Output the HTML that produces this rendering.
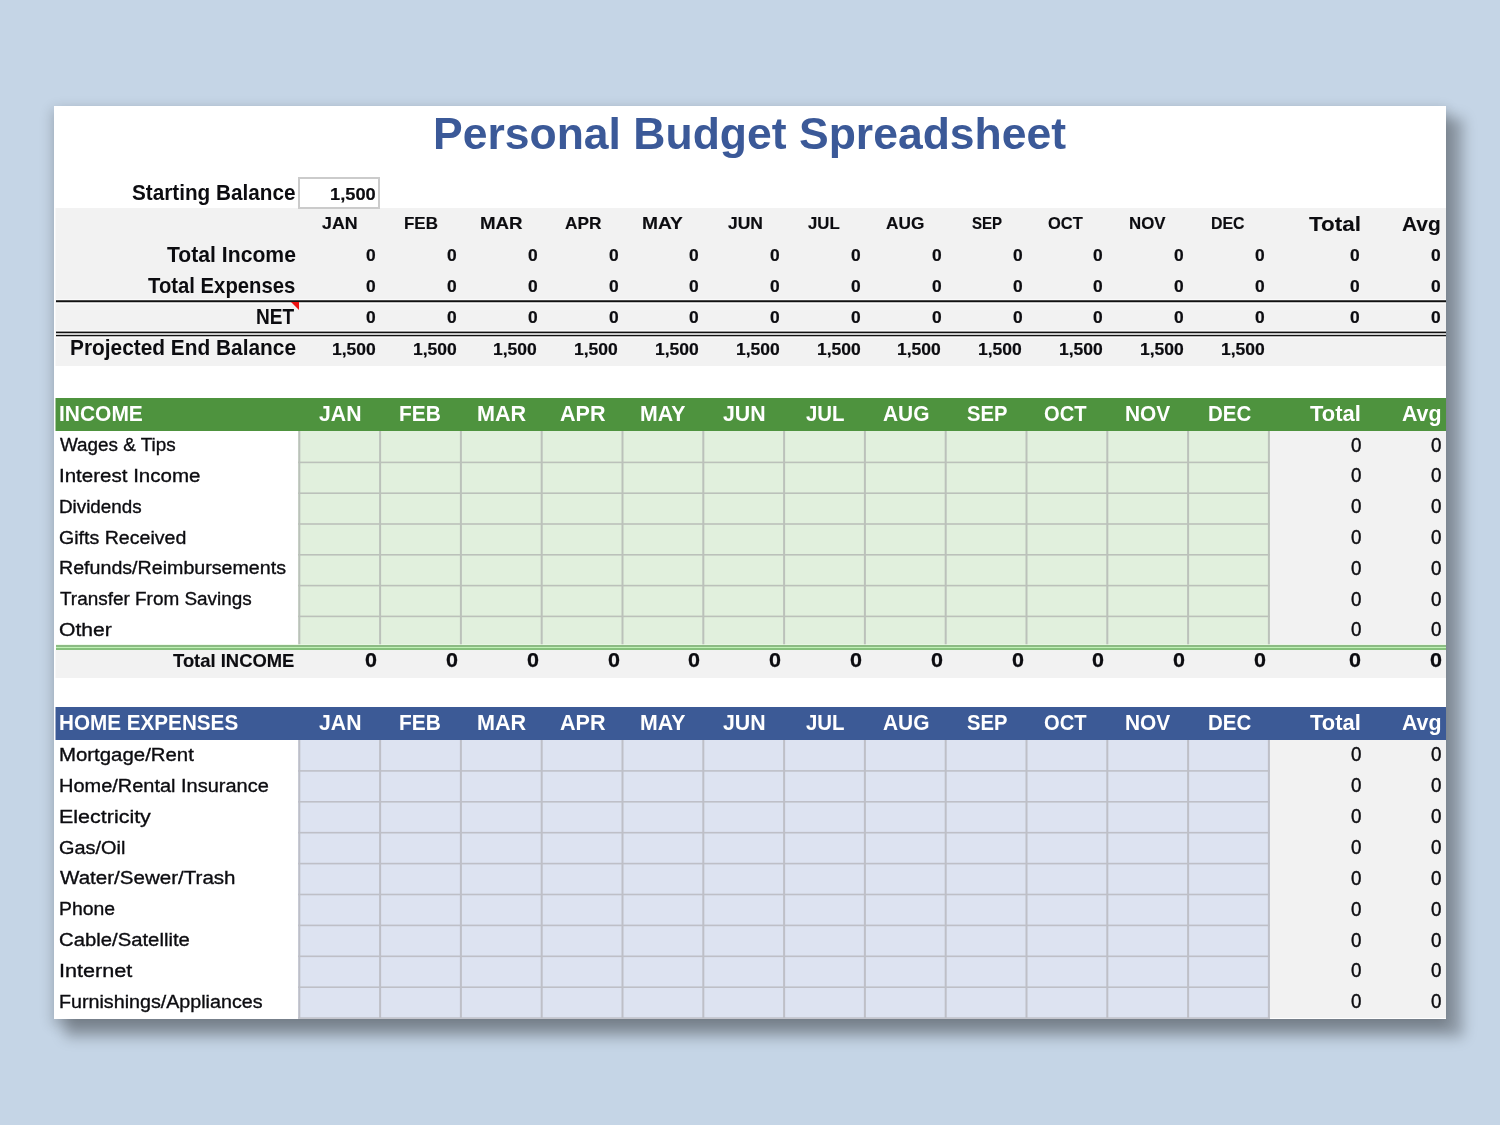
<!DOCTYPE html>
<html lang="en"><head><meta charset="utf-8"><title>Personal Budget Spreadsheet</title>
<style>
html,body{margin:0;padding:0;}
body{width:1500px;height:1125px;overflow:hidden;background:#c5d5e6;font-family:"Liberation Sans",sans-serif;color:#0c0c10;}
.sheet{position:absolute;left:54px;top:106px;width:1392px;height:913px;background:#fff;
 box-shadow:14px 15px 13px 3px rgba(0,0,0,0.28), 0 5px 12px 2px rgba(0,0,0,0.19);}
.clip{position:absolute;left:0;top:0;width:1392px;height:913px;overflow:hidden;}
.b,.t{position:absolute;}
section{filter:blur(0.4px);}
.t{white-space:nowrap;height:30px;line-height:30px;transform-origin:0 50%;}
.title{color:#3b5998;}
.sh,.smh{color:#fff;}
.title{font-size:43.8px;font-weight:bold;}
.lb{font-size:21.2px;font-weight:bold;}
.num{font-size:16.6px;font-weight:bold;-webkit-text-stroke:0.2px currentColor;}
.mh{font-size:16.5px;font-weight:bold;-webkit-text-stroke:0.15px currentColor;}
.th{font-size:21.0px;font-weight:bold;-webkit-text-stroke:0.1px currentColor;}
.sh{font-size:21.4px;font-weight:bold;}
.smh{font-size:21.8px;font-weight:bold;}
.rl{font-size:19.2px;font-weight:normal;-webkit-text-stroke:0.35px currentColor;}
.rn{font-size:19.8px;font-weight:normal;-webkit-text-stroke:0.4px currentColor;}
.tl{font-size:18.2px;font-weight:bold;-webkit-text-stroke:0.15px currentColor;}
.tn{font-size:19.6px;font-weight:bold;-webkit-text-stroke:0.25px currentColor;}

</style></head>
<body>
<div class="sheet"><div class="clip">
<div class="grid-layer">
<div class="b" style="left:2px;top:102px;width:1390px;height:158px;background:#f2f2f2;"></div>
<div class="b" style="left:1px;top:102px;width:1px;height:158px;background:rgba(242,242,242,0.5);"></div>
<div class="b" style="left:2px;top:193px;width:1390px;height:1px;background:rgba(255,255,255,0.6);"></div>
<div class="b" style="left:2px;top:197px;width:1390px;height:1px;background:rgba(255,255,255,0.6);"></div>
<div class="b" style="left:2px;top:194px;width:1390px;height:1px;background:rgba(17,17,17,0.75);"></div>
<div class="b" style="left:2px;top:195px;width:1390px;height:1px;background:rgba(17,17,17,1);"></div>
<div class="b" style="left:2px;top:196px;width:1390px;height:1px;background:rgba(17,17,17,0.2);"></div>
<div class="b" style="left:2px;top:224px;width:1390px;height:1px;background:rgba(255,255,255,0.6);"></div>
<div class="b" style="left:2px;top:231px;width:1390px;height:1px;background:rgba(255,255,255,0.6);"></div>
<div class="b" style="left:2px;top:225px;width:1390px;height:1px;background:rgba(17,17,17,0.4);"></div>
<div class="b" style="left:2px;top:226px;width:1390px;height:1px;background:rgba(17,17,17,1);"></div>
<div class="b" style="left:2px;top:227px;width:1390px;height:1px;background:rgba(17,17,17,0.2);"></div>
<div class="b" style="left:2px;top:228px;width:1390px;height:1px;background:rgba(17,17,17,0.15);"></div>
<div class="b" style="left:2px;top:229px;width:1390px;height:1px;background:rgba(17,17,17,1);"></div>
<div class="b" style="left:2px;top:230px;width:1390px;height:1px;background:rgba(17,17,17,0.25);"></div>
<div class="b" style="left:236.60000000000002px;top:196px;width:0;height:0;border-top:8px solid #ee1111;border-left:8px solid transparent;"></div>
<div class="b" style="left:2px;top:292px;width:1390px;height:33px;background:#4e933e;"></div>
<div class="b" style="left:1px;top:292px;width:1px;height:33px;background:#4e933e80;"></div>
<div class="b" style="left:244px;top:325px;width:972px;height:214px;background:#e1f0dd;"></div>
<div class="b" style="left:1216px;top:325px;width:176px;height:214px;background:#f2f2f2;"></div>
<div class="b" style="left:244px;top:355px;width:972px;height:1px;background:rgba(187,193,186,0.40);"></div>
<div class="b" style="left:244px;top:356px;width:972px;height:1px;background:rgba(187,193,186,1.00);"></div>
<div class="b" style="left:244px;top:357px;width:972px;height:1px;background:rgba(187,193,186,0.20);"></div>
<div class="b" style="left:244px;top:386px;width:972px;height:1px;background:rgba(187,193,186,0.60);"></div>
<div class="b" style="left:244px;top:387px;width:972px;height:1px;background:rgba(187,193,186,1.00);"></div>
<div class="b" style="left:244px;top:417px;width:972px;height:1px;background:rgba(187,193,186,0.80);"></div>
<div class="b" style="left:244px;top:418px;width:972px;height:1px;background:rgba(187,193,186,0.80);"></div>
<div class="b" style="left:244px;top:448px;width:972px;height:1px;background:rgba(187,193,186,1.00);"></div>
<div class="b" style="left:244px;top:449px;width:972px;height:1px;background:rgba(187,193,186,0.60);"></div>
<div class="b" style="left:244px;top:478px;width:972px;height:1px;background:rgba(187,193,186,0.20);"></div>
<div class="b" style="left:244px;top:479px;width:972px;height:1px;background:rgba(187,193,186,1.00);"></div>
<div class="b" style="left:244px;top:480px;width:972px;height:1px;background:rgba(187,193,186,0.40);"></div>
<div class="b" style="left:244px;top:509px;width:972px;height:1px;background:rgba(187,193,186,0.40);"></div>
<div class="b" style="left:244px;top:510px;width:972px;height:1px;background:rgba(187,193,186,1.00);"></div>
<div class="b" style="left:244px;top:511px;width:972px;height:1px;background:rgba(187,193,186,0.20);"></div>
<div class="b" style="left:244px;top:325px;width:1px;height:214px;background:rgba(187,193,186,0.70);"></div>
<div class="b" style="left:245px;top:325px;width:1px;height:214px;background:rgba(187,193,186,1.00);"></div>
<div class="b" style="left:246px;top:325px;width:1px;height:214px;background:rgba(187,193,186,0.30);"></div>
<div class="b" style="left:325px;top:325px;width:1px;height:214px;background:rgba(187,193,186,0.90);"></div>
<div class="b" style="left:326px;top:325px;width:1px;height:214px;background:rgba(187,193,186,1.00);"></div>
<div class="b" style="left:327px;top:325px;width:1px;height:214px;background:rgba(187,193,186,0.10);"></div>
<div class="b" style="left:405px;top:325px;width:1px;height:214px;background:rgba(187,193,186,0.10);"></div>
<div class="b" style="left:406px;top:325px;width:1px;height:214px;background:rgba(187,193,186,1.00);"></div>
<div class="b" style="left:407px;top:325px;width:1px;height:214px;background:rgba(187,193,186,0.90);"></div>
<div class="b" style="left:486px;top:325px;width:1px;height:214px;background:rgba(187,193,186,0.30);"></div>
<div class="b" style="left:487px;top:325px;width:1px;height:214px;background:rgba(187,193,186,1.00);"></div>
<div class="b" style="left:488px;top:325px;width:1px;height:214px;background:rgba(187,193,186,0.70);"></div>
<div class="b" style="left:567px;top:325px;width:1px;height:214px;background:rgba(187,193,186,0.50);"></div>
<div class="b" style="left:568px;top:325px;width:1px;height:214px;background:rgba(187,193,186,1.00);"></div>
<div class="b" style="left:569px;top:325px;width:1px;height:214px;background:rgba(187,193,186,0.50);"></div>
<div class="b" style="left:648px;top:325px;width:1px;height:214px;background:rgba(187,193,186,0.70);"></div>
<div class="b" style="left:649px;top:325px;width:1px;height:214px;background:rgba(187,193,186,1.00);"></div>
<div class="b" style="left:650px;top:325px;width:1px;height:214px;background:rgba(187,193,186,0.30);"></div>
<div class="b" style="left:729px;top:325px;width:1px;height:214px;background:rgba(187,193,186,0.90);"></div>
<div class="b" style="left:730px;top:325px;width:1px;height:214px;background:rgba(187,193,186,1.00);"></div>
<div class="b" style="left:731px;top:325px;width:1px;height:214px;background:rgba(187,193,186,0.10);"></div>
<div class="b" style="left:809px;top:325px;width:1px;height:214px;background:rgba(187,193,186,0.10);"></div>
<div class="b" style="left:810px;top:325px;width:1px;height:214px;background:rgba(187,193,186,1.00);"></div>
<div class="b" style="left:811px;top:325px;width:1px;height:214px;background:rgba(187,193,186,0.90);"></div>
<div class="b" style="left:890px;top:325px;width:1px;height:214px;background:rgba(187,193,186,0.30);"></div>
<div class="b" style="left:891px;top:325px;width:1px;height:214px;background:rgba(187,193,186,1.00);"></div>
<div class="b" style="left:892px;top:325px;width:1px;height:214px;background:rgba(187,193,186,0.70);"></div>
<div class="b" style="left:971px;top:325px;width:1px;height:214px;background:rgba(187,193,186,0.50);"></div>
<div class="b" style="left:972px;top:325px;width:1px;height:214px;background:rgba(187,193,186,1.00);"></div>
<div class="b" style="left:973px;top:325px;width:1px;height:214px;background:rgba(187,193,186,0.50);"></div>
<div class="b" style="left:1052px;top:325px;width:1px;height:214px;background:rgba(187,193,186,0.70);"></div>
<div class="b" style="left:1053px;top:325px;width:1px;height:214px;background:rgba(187,193,186,1.00);"></div>
<div class="b" style="left:1054px;top:325px;width:1px;height:214px;background:rgba(187,193,186,0.30);"></div>
<div class="b" style="left:1133px;top:325px;width:1px;height:214px;background:rgba(187,193,186,0.90);"></div>
<div class="b" style="left:1134px;top:325px;width:1px;height:214px;background:rgba(187,193,186,1.00);"></div>
<div class="b" style="left:1135px;top:325px;width:1px;height:214px;background:rgba(187,193,186,0.10);"></div>
<div class="b" style="left:1213px;top:325px;width:1px;height:214px;background:rgba(187,193,186,0.10);"></div>
<div class="b" style="left:1214px;top:325px;width:1px;height:214px;background:rgba(187,193,186,1.00);"></div>
<div class="b" style="left:1215px;top:325px;width:1px;height:214px;background:rgba(187,193,186,0.90);"></div>
<div class="b" style="left:2px;top:544px;width:1390px;height:28px;background:#f2f2f2;"></div>
<div class="b" style="left:1px;top:544px;width:1px;height:28px;background:rgba(242,242,242,0.5);"></div>
<div class="b" style="left:2px;top:538px;width:1390px;height:1px;background:rgba(235,250,230,0.7);"></div>
<div class="b" style="left:2px;top:539px;width:1390px;height:2px;background:#8cbb84;"></div>
<div class="b" style="left:2px;top:541px;width:1390px;height:1px;background:#c0f2b6;"></div>
<div class="b" style="left:2px;top:542px;width:1390px;height:2px;background:#86c07c;"></div>
<div class="b" style="left:2px;top:601px;width:1390px;height:33px;background:#3c5a96;"></div>
<div class="b" style="left:1px;top:601px;width:1px;height:33px;background:#3c5a9680;"></div>
<div class="b" style="left:244px;top:634px;width:972px;height:278px;background:#dde3f1;"></div>
<div class="b" style="left:1216px;top:634px;width:176px;height:278px;background:#f2f2f2;"></div>
<div class="b" style="left:244px;top:664px;width:972px;height:1px;background:rgba(190,191,199,0.90);"></div>
<div class="b" style="left:244px;top:665px;width:972px;height:1px;background:rgba(190,191,199,0.70);"></div>
<div class="b" style="left:244px;top:695px;width:972px;height:1px;background:rgba(190,191,199,1.00);"></div>
<div class="b" style="left:244px;top:696px;width:972px;height:1px;background:rgba(190,191,199,0.60);"></div>
<div class="b" style="left:244px;top:725px;width:972px;height:1px;background:rgba(190,191,199,0.10);"></div>
<div class="b" style="left:244px;top:726px;width:972px;height:1px;background:rgba(190,191,199,1.00);"></div>
<div class="b" style="left:244px;top:727px;width:972px;height:1px;background:rgba(190,191,199,0.50);"></div>
<div class="b" style="left:244px;top:756px;width:972px;height:1px;background:rgba(190,191,199,0.20);"></div>
<div class="b" style="left:244px;top:757px;width:972px;height:1px;background:rgba(190,191,199,1.00);"></div>
<div class="b" style="left:244px;top:758px;width:972px;height:1px;background:rgba(190,191,199,0.40);"></div>
<div class="b" style="left:244px;top:787px;width:972px;height:1px;background:rgba(190,191,199,0.30);"></div>
<div class="b" style="left:244px;top:788px;width:972px;height:1px;background:rgba(190,191,199,1.00);"></div>
<div class="b" style="left:244px;top:789px;width:972px;height:1px;background:rgba(190,191,199,0.30);"></div>
<div class="b" style="left:244px;top:818px;width:972px;height:1px;background:rgba(190,191,199,0.40);"></div>
<div class="b" style="left:244px;top:819px;width:972px;height:1px;background:rgba(190,191,199,1.00);"></div>
<div class="b" style="left:244px;top:820px;width:972px;height:1px;background:rgba(190,191,199,0.20);"></div>
<div class="b" style="left:244px;top:849px;width:972px;height:1px;background:rgba(190,191,199,0.50);"></div>
<div class="b" style="left:244px;top:850px;width:972px;height:1px;background:rgba(190,191,199,1.00);"></div>
<div class="b" style="left:244px;top:851px;width:972px;height:1px;background:rgba(190,191,199,0.10);"></div>
<div class="b" style="left:244px;top:880px;width:972px;height:1px;background:rgba(190,191,199,0.60);"></div>
<div class="b" style="left:244px;top:881px;width:972px;height:1px;background:rgba(190,191,199,1.00);"></div>
<div class="b" style="left:244px;top:911px;width:972px;height:1px;background:rgba(190,191,199,0.70);"></div>
<div class="b" style="left:244px;top:912px;width:972px;height:1px;background:rgba(190,191,199,0.90);"></div>
<div class="b" style="left:244px;top:634px;width:1px;height:278px;background:rgba(190,191,199,0.70);"></div>
<div class="b" style="left:245px;top:634px;width:1px;height:278px;background:rgba(190,191,199,1.00);"></div>
<div class="b" style="left:246px;top:634px;width:1px;height:278px;background:rgba(190,191,199,0.30);"></div>
<div class="b" style="left:325px;top:634px;width:1px;height:278px;background:rgba(190,191,199,0.90);"></div>
<div class="b" style="left:326px;top:634px;width:1px;height:278px;background:rgba(190,191,199,1.00);"></div>
<div class="b" style="left:327px;top:634px;width:1px;height:278px;background:rgba(190,191,199,0.10);"></div>
<div class="b" style="left:405px;top:634px;width:1px;height:278px;background:rgba(190,191,199,0.10);"></div>
<div class="b" style="left:406px;top:634px;width:1px;height:278px;background:rgba(190,191,199,1.00);"></div>
<div class="b" style="left:407px;top:634px;width:1px;height:278px;background:rgba(190,191,199,0.90);"></div>
<div class="b" style="left:486px;top:634px;width:1px;height:278px;background:rgba(190,191,199,0.30);"></div>
<div class="b" style="left:487px;top:634px;width:1px;height:278px;background:rgba(190,191,199,1.00);"></div>
<div class="b" style="left:488px;top:634px;width:1px;height:278px;background:rgba(190,191,199,0.70);"></div>
<div class="b" style="left:567px;top:634px;width:1px;height:278px;background:rgba(190,191,199,0.50);"></div>
<div class="b" style="left:568px;top:634px;width:1px;height:278px;background:rgba(190,191,199,1.00);"></div>
<div class="b" style="left:569px;top:634px;width:1px;height:278px;background:rgba(190,191,199,0.50);"></div>
<div class="b" style="left:648px;top:634px;width:1px;height:278px;background:rgba(190,191,199,0.70);"></div>
<div class="b" style="left:649px;top:634px;width:1px;height:278px;background:rgba(190,191,199,1.00);"></div>
<div class="b" style="left:650px;top:634px;width:1px;height:278px;background:rgba(190,191,199,0.30);"></div>
<div class="b" style="left:729px;top:634px;width:1px;height:278px;background:rgba(190,191,199,0.90);"></div>
<div class="b" style="left:730px;top:634px;width:1px;height:278px;background:rgba(190,191,199,1.00);"></div>
<div class="b" style="left:731px;top:634px;width:1px;height:278px;background:rgba(190,191,199,0.10);"></div>
<div class="b" style="left:809px;top:634px;width:1px;height:278px;background:rgba(190,191,199,0.10);"></div>
<div class="b" style="left:810px;top:634px;width:1px;height:278px;background:rgba(190,191,199,1.00);"></div>
<div class="b" style="left:811px;top:634px;width:1px;height:278px;background:rgba(190,191,199,0.90);"></div>
<div class="b" style="left:890px;top:634px;width:1px;height:278px;background:rgba(190,191,199,0.30);"></div>
<div class="b" style="left:891px;top:634px;width:1px;height:278px;background:rgba(190,191,199,1.00);"></div>
<div class="b" style="left:892px;top:634px;width:1px;height:278px;background:rgba(190,191,199,0.70);"></div>
<div class="b" style="left:971px;top:634px;width:1px;height:278px;background:rgba(190,191,199,0.50);"></div>
<div class="b" style="left:972px;top:634px;width:1px;height:278px;background:rgba(190,191,199,1.00);"></div>
<div class="b" style="left:973px;top:634px;width:1px;height:278px;background:rgba(190,191,199,0.50);"></div>
<div class="b" style="left:1052px;top:634px;width:1px;height:278px;background:rgba(190,191,199,0.70);"></div>
<div class="b" style="left:1053px;top:634px;width:1px;height:278px;background:rgba(190,191,199,1.00);"></div>
<div class="b" style="left:1054px;top:634px;width:1px;height:278px;background:rgba(190,191,199,0.30);"></div>
<div class="b" style="left:1133px;top:634px;width:1px;height:278px;background:rgba(190,191,199,0.90);"></div>
<div class="b" style="left:1134px;top:634px;width:1px;height:278px;background:rgba(190,191,199,1.00);"></div>
<div class="b" style="left:1135px;top:634px;width:1px;height:278px;background:rgba(190,191,199,0.10);"></div>
<div class="b" style="left:1213px;top:634px;width:1px;height:278px;background:rgba(190,191,199,0.10);"></div>
<div class="b" style="left:1214px;top:634px;width:1px;height:278px;background:rgba(190,191,199,1.00);"></div>
<div class="b" style="left:1215px;top:634px;width:1px;height:278px;background:rgba(190,191,199,0.90);"></div>
<div class="b" style="left:244px;top:71px;width:82px;height:32px;background:#fff;border:2px solid #cbcbcb;box-sizing:border-box;"></div>
</div>
<section class="sec-summary">
<div class="t title" style="left:378.95px;top:13.00px;transform:scaleX(1.0161)">Personal Budget Spreadsheet</div>
<div class="t lb" style="left:77.71px;top:72.00px;transform:scaleX(0.9778)">Starting Balance</div>
<div class="t num" style="left:275.87px;top:74.00px;transform:scaleX(1.1008)">1,500</div>
<div class="t mh" style="left:268.18px;top:102.00px;transform:scaleX(1.0789)">JAN</div>
<div class="t mh" style="left:349.87px;top:102.00px;transform:scaleX(1.0261)">FEB</div>
<div class="t mh" style="left:426.03px;top:102.00px;transform:scaleX(1.1345)">MAR</div>
<div class="t mh" style="left:510.89px;top:102.00px;transform:scaleX(1.0461)">APR</div>
<div class="t mh" style="left:587.79px;top:102.00px;transform:scaleX(1.1632)">MAY</div>
<div class="t mh" style="left:673.58px;top:102.00px;transform:scaleX(1.0599)">JUN</div>
<div class="t mh" style="left:754.40px;top:102.00px;transform:scaleX(1.0163)">JUL</div>
<div class="t mh" style="left:832.49px;top:102.00px;transform:scaleX(1.0448)">AUG</div>
<div class="t mh" style="left:918.43px;top:102.00px;transform:scaleX(0.9113)">SEP</div>
<div class="t mh" style="left:994.40px;top:102.00px;transform:scaleX(0.9971)">OCT</div>
<div class="t mh" style="left:1074.57px;top:102.00px;transform:scaleX(1.0202)">NOV</div>
<div class="t mh" style="left:1157.25px;top:102.00px;transform:scaleX(0.9633)">DEC</div>
<div class="t th" style="left:1254.98px;top:103.00px;transform:scaleX(1.0685)">Total</div>
<div class="t th" style="left:1348.40px;top:103.00px;transform:scaleX(0.9947)">Avg</div>
<div class="t lb" style="left:113.20px;top:134.00px;transform:scaleX(0.9984)">Total Income</div>
<div class="t num" style="left:312.15px;top:135.00px;transform:scaleX(1.0500)">0</div>
<div class="t num" style="left:392.95px;top:135.00px;transform:scaleX(1.0500)">0</div>
<div class="t num" style="left:473.75px;top:135.00px;transform:scaleX(1.0500)">0</div>
<div class="t num" style="left:554.55px;top:135.00px;transform:scaleX(1.0500)">0</div>
<div class="t num" style="left:635.35px;top:135.00px;transform:scaleX(1.0500)">0</div>
<div class="t num" style="left:716.15px;top:135.00px;transform:scaleX(1.0500)">0</div>
<div class="t num" style="left:796.95px;top:135.00px;transform:scaleX(1.0500)">0</div>
<div class="t num" style="left:877.75px;top:135.00px;transform:scaleX(1.0500)">0</div>
<div class="t num" style="left:958.55px;top:135.00px;transform:scaleX(1.0500)">0</div>
<div class="t num" style="left:1039.35px;top:135.00px;transform:scaleX(1.0500)">0</div>
<div class="t num" style="left:1120.15px;top:135.00px;transform:scaleX(1.0500)">0</div>
<div class="t num" style="left:1200.95px;top:135.00px;transform:scaleX(1.0500)">0</div>
<div class="t num" style="left:1296.05px;top:135.00px;transform:scaleX(1.0500)">0</div>
<div class="t num" style="left:1377.05px;top:135.00px;transform:scaleX(1.0500)">0</div>
<div class="t lb" style="left:93.71px;top:165.00px;transform:scaleX(0.9574)">Total Expenses</div>
<div class="t num" style="left:312.15px;top:166.00px;transform:scaleX(1.0500)">0</div>
<div class="t num" style="left:392.95px;top:166.00px;transform:scaleX(1.0500)">0</div>
<div class="t num" style="left:473.75px;top:166.00px;transform:scaleX(1.0500)">0</div>
<div class="t num" style="left:554.55px;top:166.00px;transform:scaleX(1.0500)">0</div>
<div class="t num" style="left:635.35px;top:166.00px;transform:scaleX(1.0500)">0</div>
<div class="t num" style="left:716.15px;top:166.00px;transform:scaleX(1.0500)">0</div>
<div class="t num" style="left:796.95px;top:166.00px;transform:scaleX(1.0500)">0</div>
<div class="t num" style="left:877.75px;top:166.00px;transform:scaleX(1.0500)">0</div>
<div class="t num" style="left:958.55px;top:166.00px;transform:scaleX(1.0500)">0</div>
<div class="t num" style="left:1039.35px;top:166.00px;transform:scaleX(1.0500)">0</div>
<div class="t num" style="left:1120.15px;top:166.00px;transform:scaleX(1.0500)">0</div>
<div class="t num" style="left:1200.95px;top:166.00px;transform:scaleX(1.0500)">0</div>
<div class="t num" style="left:1296.05px;top:166.00px;transform:scaleX(1.0500)">0</div>
<div class="t num" style="left:1377.05px;top:166.00px;transform:scaleX(1.0500)">0</div>
<div class="t lb" style="left:201.83px;top:196.00px;transform:scaleX(0.8993)">NET</div>
<div class="t num" style="left:312.15px;top:197.00px;transform:scaleX(1.0500)">0</div>
<div class="t num" style="left:392.95px;top:197.00px;transform:scaleX(1.0500)">0</div>
<div class="t num" style="left:473.75px;top:197.00px;transform:scaleX(1.0500)">0</div>
<div class="t num" style="left:554.55px;top:197.00px;transform:scaleX(1.0500)">0</div>
<div class="t num" style="left:635.35px;top:197.00px;transform:scaleX(1.0500)">0</div>
<div class="t num" style="left:716.15px;top:197.00px;transform:scaleX(1.0500)">0</div>
<div class="t num" style="left:796.95px;top:197.00px;transform:scaleX(1.0500)">0</div>
<div class="t num" style="left:877.75px;top:197.00px;transform:scaleX(1.0500)">0</div>
<div class="t num" style="left:958.55px;top:197.00px;transform:scaleX(1.0500)">0</div>
<div class="t num" style="left:1039.35px;top:197.00px;transform:scaleX(1.0500)">0</div>
<div class="t num" style="left:1120.15px;top:197.00px;transform:scaleX(1.0500)">0</div>
<div class="t num" style="left:1200.95px;top:197.00px;transform:scaleX(1.0500)">0</div>
<div class="t num" style="left:1296.05px;top:197.00px;transform:scaleX(1.0500)">0</div>
<div class="t num" style="left:1377.05px;top:197.00px;transform:scaleX(1.0500)">0</div>
<div class="t lb" style="left:15.52px;top:227.00px;transform:scaleX(0.9846)">Projected End Balance</div>
<div class="t num" style="left:277.75px;top:229.00px;transform:scaleX(1.0550)">1,500</div>
<div class="t num" style="left:358.54px;top:229.00px;transform:scaleX(1.0550)">1,500</div>
<div class="t num" style="left:439.35px;top:229.00px;transform:scaleX(1.0550)">1,500</div>
<div class="t num" style="left:520.15px;top:229.00px;transform:scaleX(1.0550)">1,500</div>
<div class="t num" style="left:600.95px;top:229.00px;transform:scaleX(1.0550)">1,500</div>
<div class="t num" style="left:681.75px;top:229.00px;transform:scaleX(1.0550)">1,500</div>
<div class="t num" style="left:762.55px;top:229.00px;transform:scaleX(1.0550)">1,500</div>
<div class="t num" style="left:843.35px;top:229.00px;transform:scaleX(1.0550)">1,500</div>
<div class="t num" style="left:924.15px;top:229.00px;transform:scaleX(1.0550)">1,500</div>
<div class="t num" style="left:1004.95px;top:229.00px;transform:scaleX(1.0550)">1,500</div>
<div class="t num" style="left:1085.75px;top:229.00px;transform:scaleX(1.0550)">1,500</div>
<div class="t num" style="left:1166.55px;top:229.00px;transform:scaleX(1.0550)">1,500</div>
</section>
<section class="sec-income">
<div class="t sh" style="left:4.73px;top:293.00px;transform:scaleX(0.9797)">INCOME</div>
<div class="t smh" style="left:265.01px;top:293.00px;transform:scaleX(0.9736)">JAN</div>
<div class="t smh" style="left:345.45px;top:293.00px;transform:scaleX(0.9592)">FEB</div>
<div class="t smh" style="left:422.71px;top:293.00px;transform:scaleX(0.9895)">MAR</div>
<div class="t smh" style="left:505.60px;top:293.00px;transform:scaleX(0.9888)">APR</div>
<div class="t smh" style="left:586.23px;top:293.00px;transform:scaleX(0.9776)">MAY</div>
<div class="t smh" style="left:669.01px;top:293.00px;transform:scaleX(0.9784)">JUN</div>
<div class="t smh" style="left:751.72px;top:293.00px;transform:scaleX(0.9361)">JUL</div>
<div class="t smh" style="left:829.01px;top:293.00px;transform:scaleX(0.9593)">AUG</div>
<div class="t smh" style="left:913.02px;top:293.00px;transform:scaleX(0.9251)">SEP</div>
<div class="t smh" style="left:989.50px;top:293.00px;transform:scaleX(0.9239)">OCT</div>
<div class="t smh" style="left:1070.85px;top:293.00px;transform:scaleX(0.9584)">NOV</div>
<div class="t smh" style="left:1153.58px;top:293.00px;transform:scaleX(0.9405)">DEC</div>
<div class="t smh" style="left:1255.90px;top:293.00px;transform:scaleX(1.0062)">Total</div>
<div class="t smh" style="left:1348.21px;top:293.00px;transform:scaleX(0.9793)">Avg</div>
<div class="t rl" style="left:5.90px;top:324.00px;transform:scaleX(0.9837)">Wages &amp; Tips</div>
<div class="t rn" style="left:1296.75px;top:324.00px;transform:scaleX(0.9500)">0</div>
<div class="t rn" style="left:1377.15px;top:324.00px;transform:scaleX(0.9500)">0</div>
<div class="t rl" style="left:4.81px;top:355.00px;transform:scaleX(1.0696)">Interest Income</div>
<div class="t rn" style="left:1296.75px;top:354.00px;transform:scaleX(0.9500)">0</div>
<div class="t rn" style="left:1377.15px;top:354.00px;transform:scaleX(0.9500)">0</div>
<div class="t rl" style="left:4.93px;top:386.00px;transform:scaleX(0.9800)">Dividends</div>
<div class="t rn" style="left:1296.75px;top:385.00px;transform:scaleX(0.9500)">0</div>
<div class="t rn" style="left:1377.15px;top:385.00px;transform:scaleX(0.9500)">0</div>
<div class="t rl" style="left:5.19px;top:417.00px;transform:scaleX(1.0206)">Gifts Received</div>
<div class="t rn" style="left:1296.75px;top:416.00px;transform:scaleX(0.9500)">0</div>
<div class="t rn" style="left:1377.15px;top:416.00px;transform:scaleX(0.9500)">0</div>
<div class="t rl" style="left:4.87px;top:447.00px;transform:scaleX(1.0232)">Refunds/Reimbursements</div>
<div class="t rn" style="left:1296.75px;top:447.00px;transform:scaleX(0.9500)">0</div>
<div class="t rn" style="left:1377.15px;top:447.00px;transform:scaleX(0.9500)">0</div>
<div class="t rl" style="left:5.90px;top:478.00px;transform:scaleX(0.9863)">Transfer From Savings</div>
<div class="t rn" style="left:1296.75px;top:478.00px;transform:scaleX(0.9500)">0</div>
<div class="t rn" style="left:1377.15px;top:478.00px;transform:scaleX(0.9500)">0</div>
<div class="t rl" style="left:5.17px;top:509.00px;transform:scaleX(1.1006)">Other</div>
<div class="t rn" style="left:1296.75px;top:508.00px;transform:scaleX(0.9500)">0</div>
<div class="t rn" style="left:1377.15px;top:508.00px;transform:scaleX(0.9500)">0</div>
<div class="t tl" style="left:119.45px;top:540.00px;transform:scaleX(1.0122)">Total INCOME</div>
<div class="t tn" style="left:311.10px;top:539.00px;transform:scaleX(1.1000)">0</div>
<div class="t tn" style="left:391.90px;top:539.00px;transform:scaleX(1.1000)">0</div>
<div class="t tn" style="left:472.70px;top:539.00px;transform:scaleX(1.1000)">0</div>
<div class="t tn" style="left:553.50px;top:539.00px;transform:scaleX(1.1000)">0</div>
<div class="t tn" style="left:634.30px;top:539.00px;transform:scaleX(1.1000)">0</div>
<div class="t tn" style="left:715.10px;top:539.00px;transform:scaleX(1.1000)">0</div>
<div class="t tn" style="left:795.90px;top:539.00px;transform:scaleX(1.1000)">0</div>
<div class="t tn" style="left:876.70px;top:539.00px;transform:scaleX(1.1000)">0</div>
<div class="t tn" style="left:957.50px;top:539.00px;transform:scaleX(1.1000)">0</div>
<div class="t tn" style="left:1038.30px;top:539.00px;transform:scaleX(1.1000)">0</div>
<div class="t tn" style="left:1119.10px;top:539.00px;transform:scaleX(1.1000)">0</div>
<div class="t tn" style="left:1199.90px;top:539.00px;transform:scaleX(1.1000)">0</div>
<div class="t tn" style="left:1295.10px;top:539.00px;transform:scaleX(1.1000)">0</div>
<div class="t tn" style="left:1376.00px;top:539.00px;transform:scaleX(1.1000)">0</div>
</section>
<section class="sec-home-expenses">
<div class="t sh" style="left:4.74px;top:602.00px;transform:scaleX(0.9662)">HOME EXPENSES</div>
<div class="t smh" style="left:265.01px;top:602.00px;transform:scaleX(0.9736)">JAN</div>
<div class="t smh" style="left:345.45px;top:602.00px;transform:scaleX(0.9592)">FEB</div>
<div class="t smh" style="left:422.71px;top:602.00px;transform:scaleX(0.9895)">MAR</div>
<div class="t smh" style="left:505.60px;top:602.00px;transform:scaleX(0.9888)">APR</div>
<div class="t smh" style="left:586.23px;top:602.00px;transform:scaleX(0.9776)">MAY</div>
<div class="t smh" style="left:669.01px;top:602.00px;transform:scaleX(0.9784)">JUN</div>
<div class="t smh" style="left:751.72px;top:602.00px;transform:scaleX(0.9361)">JUL</div>
<div class="t smh" style="left:829.01px;top:602.00px;transform:scaleX(0.9593)">AUG</div>
<div class="t smh" style="left:913.02px;top:602.00px;transform:scaleX(0.9251)">SEP</div>
<div class="t smh" style="left:989.50px;top:602.00px;transform:scaleX(0.9239)">OCT</div>
<div class="t smh" style="left:1070.85px;top:602.00px;transform:scaleX(0.9584)">NOV</div>
<div class="t smh" style="left:1153.58px;top:602.00px;transform:scaleX(0.9405)">DEC</div>
<div class="t smh" style="left:1255.90px;top:602.00px;transform:scaleX(1.0062)">Total</div>
<div class="t smh" style="left:1348.21px;top:602.00px;transform:scaleX(0.9793)">Avg</div>
<div class="t rl" style="left:4.82px;top:634.00px;transform:scaleX(1.0625)">Mortgage/Rent</div>
<div class="t rn" style="left:1296.75px;top:633.00px;transform:scaleX(0.9500)">0</div>
<div class="t rn" style="left:1377.15px;top:633.00px;transform:scaleX(0.9500)">0</div>
<div class="t rl" style="left:4.85px;top:665.00px;transform:scaleX(1.0406)">Home/Rental Insurance</div>
<div class="t rn" style="left:1296.75px;top:664.00px;transform:scaleX(0.9500)">0</div>
<div class="t rn" style="left:1377.15px;top:664.00px;transform:scaleX(0.9500)">0</div>
<div class="t rl" style="left:4.75px;top:696.00px;transform:scaleX(1.1190)">Electricity</div>
<div class="t rn" style="left:1296.75px;top:695.00px;transform:scaleX(0.9500)">0</div>
<div class="t rn" style="left:1377.15px;top:695.00px;transform:scaleX(0.9500)">0</div>
<div class="t rl" style="left:5.19px;top:727.00px;transform:scaleX(1.0367)">Gas/Oil</div>
<div class="t rn" style="left:1296.75px;top:726.00px;transform:scaleX(0.9500)">0</div>
<div class="t rn" style="left:1377.15px;top:726.00px;transform:scaleX(0.9500)">0</div>
<div class="t rl" style="left:5.88px;top:757.00px;transform:scaleX(1.0713)">Water/Sewer/Trash</div>
<div class="t rn" style="left:1296.75px;top:757.00px;transform:scaleX(0.9500)">0</div>
<div class="t rn" style="left:1377.15px;top:757.00px;transform:scaleX(0.9500)">0</div>
<div class="t rl" style="left:4.89px;top:788.00px;transform:scaleX(1.0112)">Phone</div>
<div class="t rn" style="left:1296.75px;top:788.00px;transform:scaleX(0.9500)">0</div>
<div class="t rn" style="left:1377.15px;top:788.00px;transform:scaleX(0.9500)">0</div>
<div class="t rl" style="left:5.18px;top:819.00px;transform:scaleX(1.0575)">Cable/Satellite</div>
<div class="t rn" style="left:1296.75px;top:819.00px;transform:scaleX(0.9500)">0</div>
<div class="t rn" style="left:1377.15px;top:819.00px;transform:scaleX(0.9500)">0</div>
<div class="t rl" style="left:4.73px;top:850.00px;transform:scaleX(1.1272)">Internet</div>
<div class="t rn" style="left:1296.75px;top:849.00px;transform:scaleX(0.9500)">0</div>
<div class="t rn" style="left:1377.15px;top:849.00px;transform:scaleX(0.9500)">0</div>
<div class="t rl" style="left:4.87px;top:881.00px;transform:scaleX(1.0259)">Furnishings/Appliances</div>
<div class="t rn" style="left:1296.75px;top:880.00px;transform:scaleX(0.9500)">0</div>
<div class="t rn" style="left:1377.15px;top:880.00px;transform:scaleX(0.9500)">0</div>
</section>
</div></div>
</body></html>
